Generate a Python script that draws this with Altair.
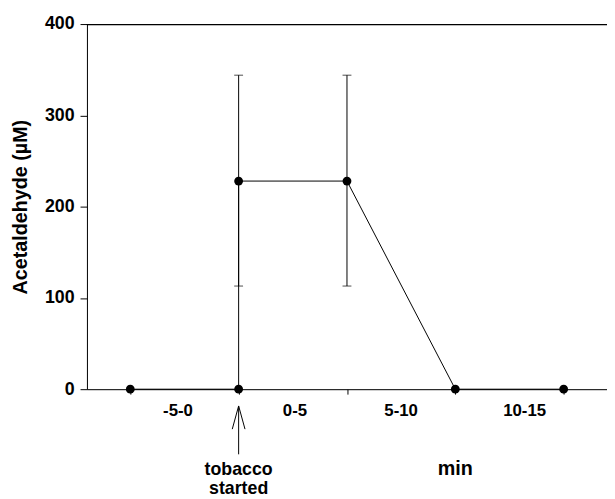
import altair as alt
import pandas as pd

# data
line_x = [-5, 0, 0, 5, 10, 15]
line_y = [0, 0, 228, 228, 0, 0]
err_x = [0, 5]
err_lo = [113, 113]
err_hi = [344, 344]
range_labels = ["-5-0", "0-5", "5-10", "10-15"]
range_pos = [-2.8, 2.6, 7.5, 13.2]

FONT = "Liberation Sans"
W, H = 527, 370

line_df = pd.DataFrame({"x": line_x, "y": line_y, "order": list(range(len(line_x)))})
err_df = pd.DataFrame({"x": err_x, "lo": err_lo, "hi": err_hi})
lab_df = pd.DataFrame({"x": range_pos, "label": range_labels})

xscale = alt.Scale(domain=[-7, 17], nice=False, zero=False)
yscale = alt.Scale(domain=[0, 400], nice=False)

xaxis = alt.Axis(values=[-5, 0, 5, 10, 15], labels=False, title=None, grid=False,
                 tickSize=5, tickColor="black", domainColor="black", tickWidth=1, domainWidth=1)
yaxis = alt.Axis(values=[0, 100, 200, 300, 400], grid=False, tickSize=7, tickColor="black",
                 domainColor="black", labelFont=FONT, labelFontSize=18, labelFontWeight="bold",
                 labelColor="black", labelPadding=6, title="Acetaldehyde (µM)",
                 titleFont=FONT, titleFontSize=20, titleFontWeight="bold", titleColor="black",
                 titleX=-67, titleY=185, titleAngle=270, titleAlign="center",
                 titleBaseline="middle")

base = alt.Chart(line_df)

line = base.mark_line(color="black", strokeWidth=1).encode(
    x=alt.X("x:Q", scale=xscale, axis=xaxis),
    y=alt.Y("y:Q", scale=yscale, axis=yaxis),
    order="order:O",
)
pts = base.mark_circle(color="black", opacity=1, size=80).encode(
    x=alt.X("x:Q", scale=xscale), y=alt.Y("y:Q", scale=yscale)
)

ebar = alt.Chart(err_df).mark_rule(color="black", strokeWidth=1).encode(
    x=alt.X("x:Q", scale=xscale), y=alt.Y("lo:Q", scale=yscale), y2="hi:Q"
)
cap_hi = alt.Chart(err_df).mark_tick(color="black", orient="horizontal", size=9, thickness=1).encode(
    x=alt.X("x:Q", scale=xscale), y=alt.Y("hi:Q", scale=yscale)
)
cap_lo = alt.Chart(err_df).mark_tick(color="black", orient="horizontal", size=9, thickness=1).encode(
    x=alt.X("x:Q", scale=xscale), y=alt.Y("lo:Q", scale=yscale)
)

top = alt.Chart(line_df).mark_rule(color="black", strokeWidth=1, yOffset=0.5).encode(y=alt.datum(400))

labels = alt.Chart(lab_df).mark_text(font=FONT, fontSize=17, fontWeight="bold", color="black",
                                     baseline="alphabetic", align="center").encode(
    x=alt.X("x:Q", scale=xscale), y=alt.value(H + 27), text="label:N"
)

ann_df = pd.DataFrame({"x": [0], "t1": ["tobacco"], "t2": ["started"], "mx": [10], "m": ["min"]})
arrow_shaft = alt.Chart(ann_df).mark_rule(color="black", strokeWidth=1).encode(
    x=alt.X("x:Q", scale=xscale), y=alt.value(H + 17), y2=alt.value(H + 66)
)
arrow_head = alt.Chart(ann_df).mark_point(shape="M-0.55,1L0,-1L0.55,1", filled=False,
                                          color="black", strokeWidth=1, size=552, opacity=1).encode(
    x=alt.X("x:Q", scale=xscale), y=alt.value(H + 28.75)
)
t1 = alt.Chart(ann_df).mark_text(font=FONT, fontSize=18, fontWeight="bold", color="black",
                                 baseline="alphabetic").encode(
    x=alt.X("x:Q", scale=xscale), y=alt.value(H + 87), text="t1:N")
t2 = alt.Chart(ann_df).mark_text(font=FONT, fontSize=18, fontWeight="bold", color="black",
                                 baseline="alphabetic").encode(
    x=alt.X("x:Q", scale=xscale), y=alt.value(H + 106), text="t2:N")
tmin = alt.Chart(ann_df).mark_text(font=FONT, fontSize=20, fontWeight="bold", color="black",
                                   baseline="alphabetic").encode(
    x=alt.X("mx:Q", scale=xscale), y=alt.value(H + 87), text="m:N")

chart = alt.layer(top, line, ebar, cap_hi, cap_lo, pts, labels, arrow_shaft, arrow_head, t1, t2, tmin).properties(
    width=W, height=H,
    autosize=alt.AutoSizeParams(type="none"),
    padding={"left": 80, "top": 13, "right": 0, "bottom": 108},
).configure_view(stroke=None).configure(background="white")

chart.save("out.html", embed_options={"renderer": "svg", "actions": False})
